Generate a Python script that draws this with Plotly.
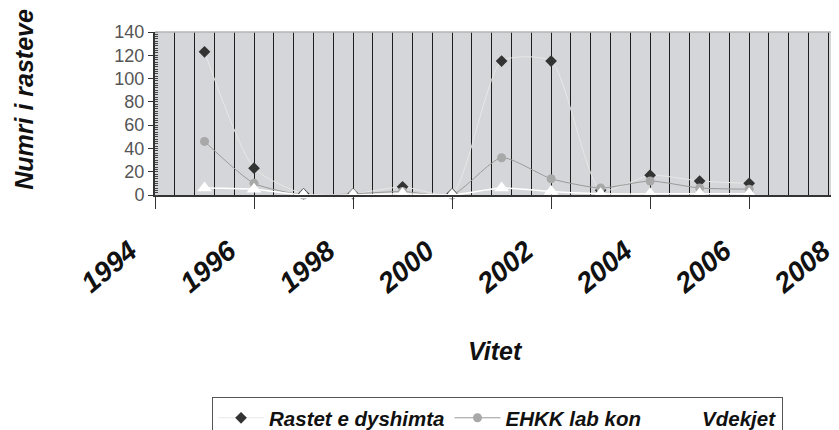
import plotly.graph_objects as go

years = [1995, 1996, 1997, 1998, 1999, 2000, 2001, 2002, 2003, 2004, 2005, 2006]
rastet = [123, 23, 1, 1, 7, 1, 115, 115, 4, 17, 12, 10]
ehkk = [46, 10, 0, 1, 3, 0, 32, 14, 6, 12, 6, 5]
vdekjet = [6, 5, 0, 0, 1, 0, 6, 3, 1, 1, 1, 1]
tick_years = [1994, 1996, 1998, 2000, 2002, 2004, 2006, 2008]
y_ticks = [0, 20, 40, 60, 80, 100, 120, 140]

FONT = "Liberation Sans, Arial, sans-serif"

fig = go.Figure()
fig.add_trace(go.Scatter(
    x=years, y=rastet, name="Rastet e dyshimta", mode="lines+markers", cliponaxis=False,
    line=dict(color="#e8e8e8", width=1, shape="spline", smoothing=0.6),
    marker=dict(symbol="diamond", size=9, color="#333333"),
))
fig.add_trace(go.Scatter(
    x=years, y=ehkk, name="EHKK lab kon", mode="lines+markers", cliponaxis=False,
    line=dict(color="#9a9a9a", width=1, shape="spline", smoothing=0.6),
    marker=dict(symbol="circle", size=9, color="#a8a8a8"),
))
fig.add_trace(go.Scatter(
    x=years, y=vdekjet, name="Vdekjet", mode="lines+markers", cliponaxis=False,
    line=dict(color="#ffffff", width=1.5, shape="spline", smoothing=0.6),
    marker=dict(symbol="triangle-up", size=13, color="#ffffff"),
))

# axis titles
fig.add_annotation(
    x=-0.206, xref="paper", y=0.585, yref="paper", text="Numri i rasteve",
    showarrow=False, textangle=-90,
    font=dict(family=FONT, size=25, color="#111111", weight="bold", style="italic"),
)
fig.add_annotation(
    x=0.477, xref="paper", y=-1.055, yref="paper", text="Vitet", showarrow=False,
    font=dict(family=FONT, size=25, color="#111111", weight="bold", style="italic"),
)

fig.add_shape(type="line", xref="paper", yref="paper", x0=0, x1=1, y0=1, y1=1,
              line=dict(color="#b5b5b5", width=1.5))

fig.update_layout(
    width=860, height=430,
    margin=dict(l=147, r=0, t=24, b=243, autoexpand=False),
    paper_bgcolor="white", plot_bgcolor="#d5d6d9",
    showlegend=True,
    legend=dict(
        orientation="h", x=0.080, xanchor="left", y=-1.239, yanchor="top",
        bordercolor="#555555", borderwidth=1, bgcolor="white", itemwidth=46,
        font=dict(family=FONT, size=20.5, color="#111111", weight="bold", style="italic"),
    ),
    xaxis=dict(
        range=[1994, 2008.4], tickmode="array", tickvals=tick_years,
        ticktext=[str(t) for t in tick_years],
        ticks="outside", ticklen=12, tickcolor="#333333", tickwidth=1,
        tickangle=-40, ticklabelstandoff=15, ticklabelshift=-25,
        tickfont=dict(family=FONT, size=28, color="#111111", weight="bold", style="italic"),
        showgrid=True, gridcolor="#1e1e1e", gridwidth=1,
        minor=dict(tick0=1994, dtick=0.4, showgrid=True, gridcolor="#1e1e1e", gridwidth=1),
        showline=True, linecolor="#333333", linewidth=1.5, zeroline=False,
    ),
    yaxis=dict(
        range=[0, 140], tickvals=y_ticks, ticks="outside", ticklen=5,
        tickcolor="#333333", showgrid=False, zeroline=False,
        showline=True, linecolor="#333333", linewidth=2,
        minor=dict(dtick=2, ticks="inside", ticklen=3, tickcolor="#444444"),
        tickfont=dict(family=FONT, size=18, color="#555555"),
    ),
)

fig.write_html("out.html")
